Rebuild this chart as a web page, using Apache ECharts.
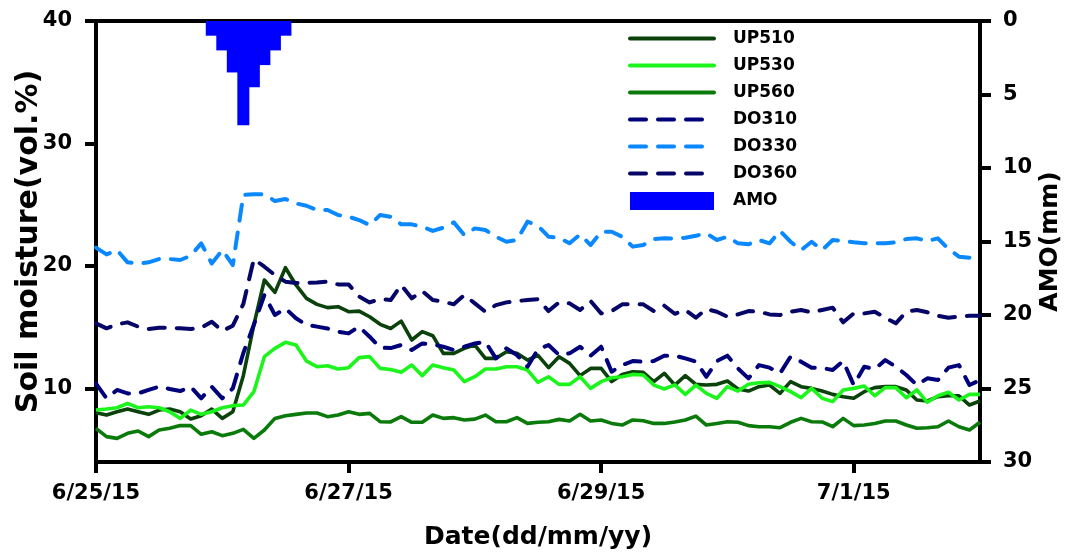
<!DOCTYPE html>
<html>
<head>
<meta charset="utf-8">
<title>Soil moisture and AMO</title>
<script src="https://cdn.jsdelivr.net/npm/echarts@6.0.0/dist/echarts.min.js"></script>
<style>
  html, body { margin: 0; padding: 0; background: #fff; }
  #main { width: 1078px; height: 556px; }
</style>
</head>
<body>
<div id="main"></div>
<script>
// readings every 2 hours, 6/25/15 0:00 to 7/2/15 0:00
var startDate = [2015, 5, 25];
var stepHours = 2;
var pointCount = 85;
var xTickLabels = ['6/25/15', '6/27/15', '6/29/15', '7/1/15'];

var up510 = [8.02, 7.83, 8.1, 8.32, 8.1, 7.89, 8.24, 8.32, 8.1, 7.51, 7.78, 8.32, 7.56, 8.1, 11.05,
  15.2, 18.86, 17.85, 19.86, 18.45, 17.36, 16.87, 16.6, 16.68, 16.27, 16.32, 15.86, 15.24, 14.9,
  15.5, 13.96, 14.64, 14.31, 12.87, 12.87, 13.28, 13.55, 12.46, 12.46, 13.0, 12.87, 12.32, 12.7,
  11.7, 12.6, 12.05, 11.05, 11.64, 11.64, 10.56, 11.15, 11.37, 11.32, 10.56, 11.24, 10.28,
  11.05, 10.34, 10.28, 10.34, 10.61, 9.96, 9.79, 10.15, 10.28, 9.6, 10.56, 10.15, 10.01, 9.79,
  9.52, 9.33, 9.2, 9.74, 10.07, 10.15, 10.15, 9.88, 9.06, 8.98, 9.33, 9.41, 9.41, 8.65, 8.98];
var up530 = [8.24, 8.32, 8.43, 8.79, 8.43, 8.51, 8.43, 8.1, 7.56, 8.24, 7.89, 8.1, 8.43, 8.6, 8.65,
  9.74, 12.6, 13.28, 13.77, 13.55, 12.24, 11.78, 11.86, 11.59, 11.7, 12.52, 12.6, 11.64, 11.55,
  11.32, 11.91, 11.05, 11.91, 11.7, 11.51, 10.56, 10.96, 11.59, 11.59, 11.78, 11.78, 11.51, 10.5,
  10.96, 10.34, 10.34, 10.96, 10.01, 10.56, 10.88, 10.96, 11.15, 11.1, 10.28, 9.96, 10.3,
  9.52, 10.28, 9.6, 9.2, 10.15, 9.79, 10.34, 10.47, 10.5, 10.15, 9.74, 9.25, 10.01, 9.2,
  8.93, 9.88, 10.01, 10.2, 9.41, 10.07, 10.07, 9.25, 9.88, 8.87, 9.41, 9.69, 9.06, 9.52, 9.52];
var up560 = [6.75, 6.07, 5.93, 6.34, 6.53, 6.07, 6.61, 6.75, 6.97, 6.97, 6.26, 6.47, 6.15, 6.34, 6.66,
  5.93, 6.61, 7.56, 7.78, 7.89, 8.0, 8.0, 7.7, 7.83, 8.1, 7.89, 7.97, 7.29, 7.27,
  7.7, 7.24, 7.24, 7.83, 7.56, 7.62, 7.43, 7.5, 7.83, 7.29, 7.29, 7.62, 7.15, 7.24,
  7.29, 7.48, 7.35, 7.89, 7.35, 7.43, 7.15, 7.02, 7.43, 7.37, 7.15, 7.15, 7.27,
  7.43, 7.75, 7.02, 7.15, 7.29, 7.24, 6.97, 6.88, 6.88, 6.8, 7.24, 7.56, 7.29, 7.27,
  6.88, 7.56, 6.97, 7.02, 7.15, 7.35, 7.35, 7.02, 6.75, 6.8, 6.88, 7.35, 6.88, 6.61, 7.24];
var do310 = [10.4, 9.2, 9.88, 9.6, 9.6, 9.88, 10.15, 9.96, 9.79, 10.15, 9.2, 10.15, 9.2, 10.01, 12.9,
  15.2, 17.63, 16.0, 16.54, 15.73, 15.2, 15.05, 14.9, 14.64, 14.5, 15.05, 14.23, 13.33, 13.3,
  13.55, 13.14, 13.68, 13.6, 13.41, 13.14, 13.41, 13.68, 13.82, 12.46, 13.28, 12.73, 11.78, 13.2,
  13.55, 12.73, 12.87, 13.41, 12.68, 13.41, 11.37, 11.91, 12.24, 12.19, 12.24, 12.68, 12.68,
  12.46, 12.19, 10.96, 12.24, 12.68, 11.64, 10.83, 11.91, 11.7, 11.24, 12.6, 12.19, 11.7, 11.67,
  11.51, 12.24, 10.28, 11.78, 11.59, 12.32, 11.78, 11.1, 10.28, 10.83, 10.69, 11.7, 11.91, 10.28, 10.69];
var do330 = [21.5, 20.95, 21.3, 20.3, 20.2, 20.3, 20.57, 20.57, 20.49, 20.84, 21.85, 20.2, 21.3, 20.08, 25.8,
  25.85, 25.85, 25.3, 25.47, 25.11, 24.92, 24.57, 24.57, 24.16, 24.02, 23.75, 23.34, 24.16, 24.02,
  23.4, 23.4, 23.21, 22.86, 23.13, 23.56, 22.53, 23.07, 22.94, 22.39, 21.98, 22.12, 23.62, 23.28,
  22.39, 22.31, 21.85, 22.58, 21.71, 22.8, 22.8, 22.39, 21.58, 21.71, 22.2, 22.26, 22.23,
  22.31, 22.47, 22.66, 22.12, 22.39, 21.85, 21.77, 22.12, 21.85, 22.86, 21.98, 21.3, 21.98, 21.3,
  22.12, 22.04, 21.93, 21.85, 21.85, 21.85, 21.93, 22.2, 22.26, 22.04, 22.26, 21.39, 20.76, 20.68, 20.62];
var do360 = [15.32, 14.91, 15.24, 15.4, 15.05, 14.86, 14.96, 14.96, 14.91, 14.86, 14.96, 15.45, 14.69, 15.13, 16.9,
  20.57, 19.94, 19.26, 18.72, 18.61, 18.63, 18.66, 18.72, 18.5, 18.5, 17.5, 17.03, 17.3, 17.22,
  18.45, 17.36, 17.96, 17.22, 17.09, 16.87, 17.63, 16.95, 16.27, 16.81, 17.03, 17.14, 17.22, 17.3,
  16.32, 17.03, 16.95, 16.41, 17.14, 16.13, 16.32, 16.87, 16.87, 16.87, 16.32, 16.76, 16.1,
  16.41, 15.78, 16.49, 16.27, 15.86, 16.05, 16.32, 16.27, 16.05, 16.0, 16.27, 16.41, 16.22, 16.41,
  16.6, 15.4, 16.13, 16.13, 16.27, 15.78, 15.32, 16.27, 16.41, 16.22, 15.94, 15.78, 15.86, 15.94, 15.94];

var amoTimes = ['6/25/15 22:00', '6/26/15 0:00', '6/26/15 2:00', '6/26/15 4:00',
  '6/26/15 6:00', '6/26/15 8:00', '6/26/15 10:00', '6/26/15 12:00'];
var amoValues = [1.0, 2.0, 3.5, 7.1, 4.5, 3.0, 2.0, 1.0];

// category names for the time axis
var times = [];
for (var i = 0; i < pointCount; i++) {
  var d = new Date(startDate[0], startDate[1], startDate[2], i * stepHours);
  times.push((d.getMonth() + 1) + '/' + d.getDate() + '/' + String(d.getFullYear()).slice(2) + ' ' + d.getHours() + ':00');
}
var tickTimes = xTickLabels.map(function (s) { return s + ' 0:00'; });
var isTick = function (idx, val) { return tickTimes.indexOf(val) >= 0; };

var font = 'DejaVu Sans';
var dash = [16, 12];

function lineSeries(name, data, color, dashed) {
  return {
    name: name,
    type: 'line',
    data: data,
    symbol: 'none',
    yAxisIndex: 0,
    lineStyle: { color: color, width: dashed ? 4 : 3.6, type: dashed ? dash : 'solid', cap: dashed ? 'round' : 'butt', join: 'round' },
    itemStyle: { color: color },
    emphasis: { disabled: true }
  };
}

// legend entries for the lines: hide the round marker, keep a thick line
var lineLegend = ['UP510', 'UP530', 'UP560', 'DO310', 'DO330', 'DO360'].map(function (n) {
  return { name: n, itemStyle: { opacity: 0 }, lineStyle: { width: 4, cap: 'round' } };
});

var myChart = echarts.init(document.getElementById('main'));
var option = {
  animation: false,
  backgroundColor: '#fff',
  grid: {
    left: 96, right: 98, top: 21, bottom: 94,
    show: true, borderColor: '#000', borderWidth: 4,
    containLabel: false, outerBoundsMode: 'none'
  },
  legend: {
    orient: 'vertical',
    left: 628, top: 30,
    padding: 0,
    itemWidth: 84, itemHeight: 18, itemGap: 10,
    textStyle: { fontFamily: font, fontWeight: 'bold', fontSize: 17, color: '#000', padding: [0, 0, 0, 14] },
    data: lineLegend.concat([{ name: 'AMO', icon: 'rect' }])
  },
  xAxis: {
    type: 'category',
    data: times,
    boundaryGap: false,
    name: 'Date(dd/mm/yy)',
    nameLocation: 'middle',
    nameGap: 63,
    nameMoveOverlap: false,
    nameTextStyle: { fontFamily: font, fontWeight: 'bold', fontSize: 25, color: '#000' },
    axisLine: { onZero: false, lineStyle: { color: '#000', width: 4 } },
    axisTick: { show: true, interval: isTick, length: 11, lineStyle: { color: '#000', width: 4 } },
    axisLabel: {
      interval: isTick, margin: 21,
      fontFamily: font, fontWeight: 'bold', fontSize: 21, color: '#000',
      formatter: function (v) { return v.split(' ')[0]; }
    },
    splitLine: { show: false }
  },
  yAxis: [{
    type: 'value',
    min: 4, max: 40,
    position: 'left',
    name: 'Soil moisture(vol.%)',
    nameLocation: 'middle',
    nameRotate: 90,
    nameGap: 52,
    nameMoveOverlap: false,
    nameTextStyle: { fontFamily: font, fontWeight: 'bold', fontSize: 30, color: '#000' },
    axisLine: { show: true, lineStyle: { color: '#000', width: 4 } },
    axisTick: { show: true, length: 11, customValues: [10, 20, 30, 40], lineStyle: { color: '#000', width: 4 } },
    axisLabel: { margin: 24, customValues: [10, 20, 30, 40], fontFamily: font, fontWeight: 'bold', fontSize: 21, color: '#000' },
    splitLine: { show: false }
  }, {
    type: 'value',
    min: 0, max: 30, interval: 5,
    inverse: true,
    position: 'right',
    name: 'AMO(mm)',
    nameLocation: 'middle',
    nameRotate: 90,
    nameGap: 58,
    nameMoveOverlap: false,
    nameTextStyle: { fontFamily: font, fontWeight: 'bold', fontSize: 25, color: '#000' },
    axisLine: { show: true, lineStyle: { color: '#000', width: 4 } },
    axisTick: { show: true, length: 11, lineStyle: { color: '#000', width: 4 } },
    axisLabel: { margin: 23, fontFamily: font, fontWeight: 'bold', fontSize: 21, color: '#000' },
    splitLine: { show: false }
  }],
  series: [
    lineSeries('UP510', up510, '#0b420b', false),
    lineSeries('UP530', up530, '#1cf51c', false),
    lineSeries('UP560', up560, '#0a7a0a', false),
    lineSeries('DO310', do310, '#00007a', true),
    lineSeries('DO330', do330, '#0a88ff', true),
    lineSeries('DO360', do360, '#060668', true),
    {
      name: 'AMO',
      type: 'bar',
      yAxisIndex: 1,
      barWidth: 12,
      data: amoTimes.map(function (t, k) { return [t, amoValues[k]]; }),
      itemStyle: { color: '#0000ff', borderWidth: 0, borderColor: '#0000ff' },
      emphasis: { disabled: true }
    }
  ]
};
myChart.setOption(option);
</script>
</body>
</html>
